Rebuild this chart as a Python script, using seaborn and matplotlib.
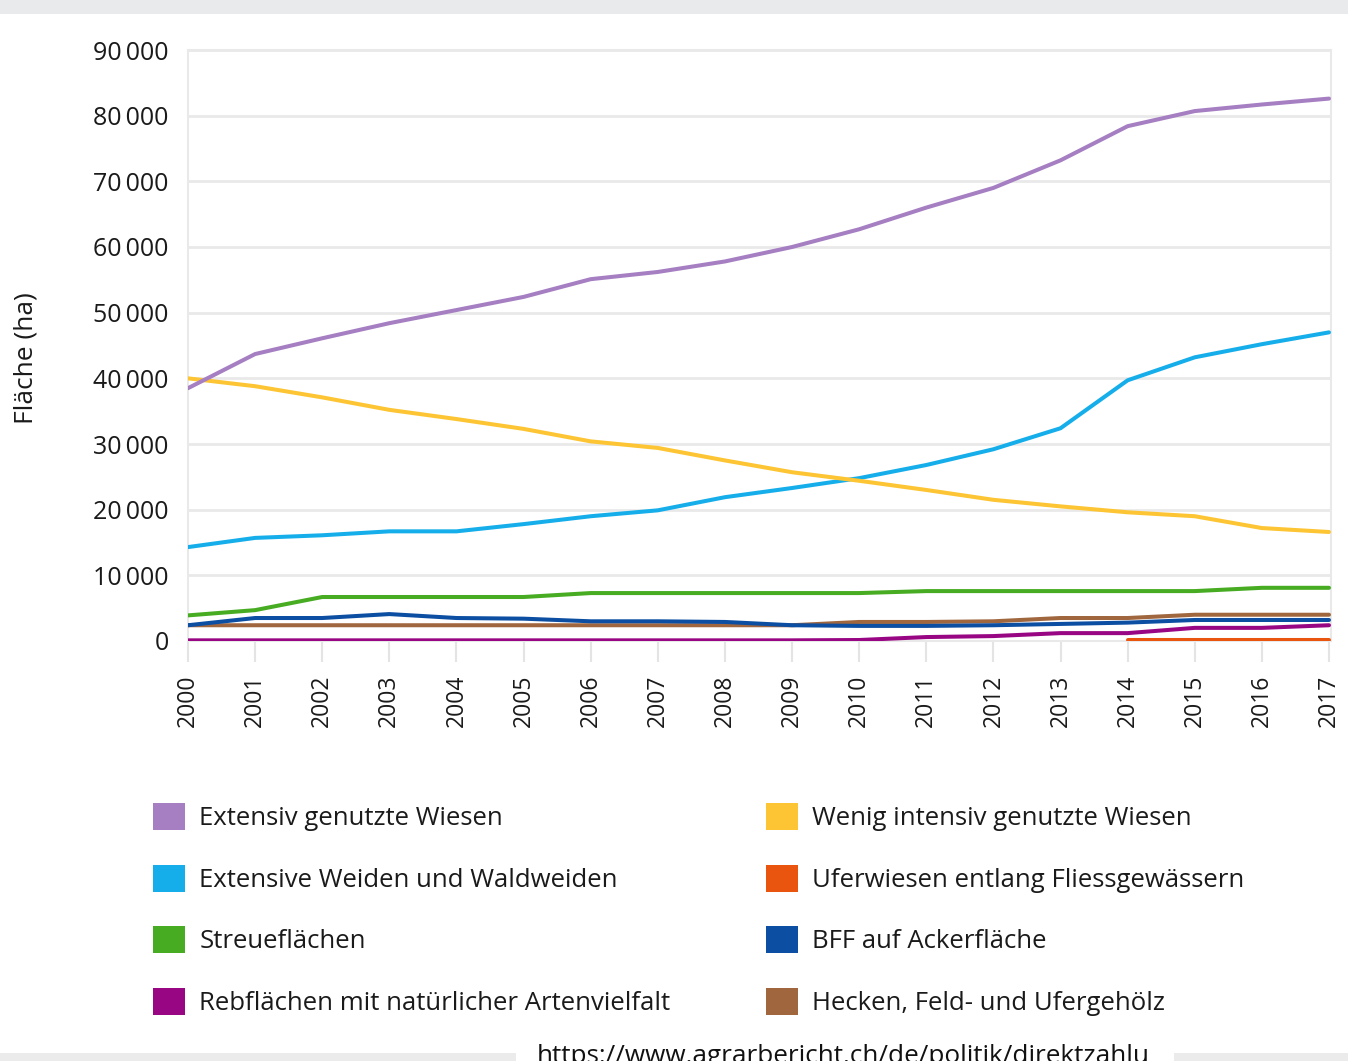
import numpy as np
import pandas as pd
import matplotlib
matplotlib.use("Agg")
import matplotlib.pyplot as plt
from matplotlib.patches import Patch, Rectangle
import seaborn as sns

years = list(range(2000, 2018))

extensiv_wiesen = [38500, 43700, 46100, 48400, 50400, 52400, 55100, 56200, 57800,
                   60000, 62700, 66000, 69000, 73200, 78400, 80700, 81700, 82600]
wenig_intensiv = [40000, 38800, 37100, 35200, 33800, 32300, 30400, 29400, 27500,
                  25700, 24400, 23000, 21500, 20500, 19600, 19000, 17200, 16600]
extensive_weiden = [14300, 15700, 16100, 16700, 16700, 17800, 19000, 19900, 21900,
                    23300, 24800, 26800, 29200, 32400, 39700, 43200, 45200, 47000]
uferwiesen = [np.nan] * 14 + [100, 100, 100, 100]
streueflaechen = [3900, 4700, 6700, 6700, 6700, 6700, 7300, 7300, 7300,
                  7300, 7300, 7600, 7600, 7600, 7600, 7600, 8100, 8100]
bff_acker = [2400, 3500, 3500, 4100, 3500, 3400, 3000, 3000, 2900,
             2400, 2300, 2300, 2400, 2600, 2800, 3200, 3200, 3200]
rebflaechen = [100, 100, 100, 100, 100, 100, 100, 100, 100,
               100, 150, 600, 750, 1200, 1200, 2000, 2000, 2400]
hecken = [2400, 2400, 2400, 2400, 2400, 2400, 2400, 2400, 2400,
          2400, 2900, 2900, 3000, 3500, 3500, 4000, 4000, 4000]

series_names = [
    "Extensiv genutzte Wiesen",
    "Wenig intensiv genutzte Wiesen",
    "Extensive Weiden und Waldweiden",
    "Uferwiesen entlang Fliessgewässern",
    "Streueflächen",
    "BFF auf Ackerfläche",
    "Rebflächen mit natürlicher Artenvielfalt",
    "Hecken, Feld- und Ufergehölz",
]
series_values = [extensiv_wiesen, wenig_intensiv, extensive_weiden, uferwiesen,
                 streueflaechen, bff_acker, rebflaechen, hecken]
colors = ["#a57fc2", "#fdc533", "#16aeea", "#e9540f",
          "#47ac22", "#0c4ea2", "#980684", "#a0673f"]

y_ticks = [0, 10000, 20000, 30000, 40000, 50000, 60000, 70000, 80000, 90000]
y_tick_labels = ["0", "10\u2009000", "20\u2009000", "30\u2009000", "40\u2009000",
                 "50\u2009000", "60\u2009000", "70\u2009000", "80\u2009000", "90\u2009000"]

rows = []
for name, vals in zip(series_names, series_values):
    for y, v in zip(years, vals):
        rows.append({"Jahr": y, "Fläche": v, "Kategorie": name})
df = pd.DataFrame(rows)

sns.set_theme(style="white")
plt.rcParams["font.family"] = ["Open Sans", "DejaVu Sans"]

W, H = 1348, 1061
fig = plt.figure(figsize=(W / 100, H / 100), dpi=100)
fig.patch.set_facecolor("white")

left, right, top, bottom = 188, 1331, 50, 641
ax = fig.add_axes([left / W, 1 - bottom / H, (right - left) / W, (bottom - top) / H])

draw_order = [series_names[i] for i in [4, 7, 5, 6, 3, 2, 1, 0]]
for name in draw_order:
    sub = df[(df["Kategorie"] == name)].dropna()
    sns.lineplot(data=sub, x="Jahr", y="Fläche", ax=ax,
                 color=colors[series_names.index(name)], linewidth=2.9,
                 legend=False, zorder=3)

ax.set_xlim(2000, 2017.03)
ax.set_ylim(0, 90000)
ax.set_yticks(y_ticks)
ax.set_yticklabels(y_tick_labels)
ax.set_xticks(years)
ax.set_xticklabels([str(y) for y in years], rotation=90)
ax.grid(axis="y", color="#e9e9e9", linewidth=2.0, zorder=0)
ax.grid(axis="x", visible=False)
ax.set_xlabel("")
ax.set_ylabel("")
for s in ["left", "right", "top", "bottom"]:
    ax.spines[s].set_color("#e9e9e9")
    ax.spines[s].set_linewidth(1.5)
ax.tick_params(axis="x", length=15, width=1.5, color="#e4e4e4", pad=9,
               labelsize=16.5, labelcolor="#1a1a1a", bottom=True)
ax.tick_params(axis="y", length=0, pad=14, labelsize=18, labelcolor="#1a1a1a")

fig.text(26 / W, 1 - 358 / H, "Fläche (ha)", rotation=90, ha="center", va="center",
         fontsize=19, color="#1a1a1a")

handles = [Patch(facecolor=c, edgecolor="none") for c in colors]
leg_kw = dict(frameon=False, handlelength=1.25, handleheight=1.25,
              handletextpad=0.55, labelspacing=1.3, borderpad=0, borderaxespad=0,
              prop={"family": ["Open Sans", "DejaVu Sans"], "size": 18.5})
col1 = [0, 2, 4, 6]
col2 = [1, 3, 5, 7]
leg1 = fig.legend([handles[i] for i in col1], [series_names[i] for i in col1],
                  loc="upper left", bbox_to_anchor=(153 / W, 1 - 803 / H), **leg_kw)
leg2 = fig.legend([handles[i] for i in col2], [series_names[i] for i in col2],
                  loc="upper left", bbox_to_anchor=(766 / W, 1 - 803 / H), **leg_kw)
for leg in (leg1, leg2):
    for t in leg.get_texts():
        t.set_color("#1a1a1a")

# top strip (cut-off title band)
fig.patches.append(Rectangle((0, 1 - 14 / H), 1, 14 / H, transform=fig.transFigure,
                             facecolor="#e9eaec", edgecolor="none", zorder=0))
# bottom strip with source box
fig.patches.append(Rectangle((0, 0), 1, 8 / H, transform=fig.transFigure,
                             facecolor="#ebebeb", edgecolor="none", zorder=0))
fig.patches.append(Rectangle((516 / W, 0), (1174 - 516) / W, 30 / H, transform=fig.transFigure,
                             facecolor="white", edgecolor="none", zorder=1))
fig.text(537 / W, -2 / H, "https://www.agrarbericht.ch/de/politik/direktzahlu",
         ha="left", va="baseline", fontsize=18.8, color="#111111", zorder=2)

fig.savefig("out.png", dpi=100)
